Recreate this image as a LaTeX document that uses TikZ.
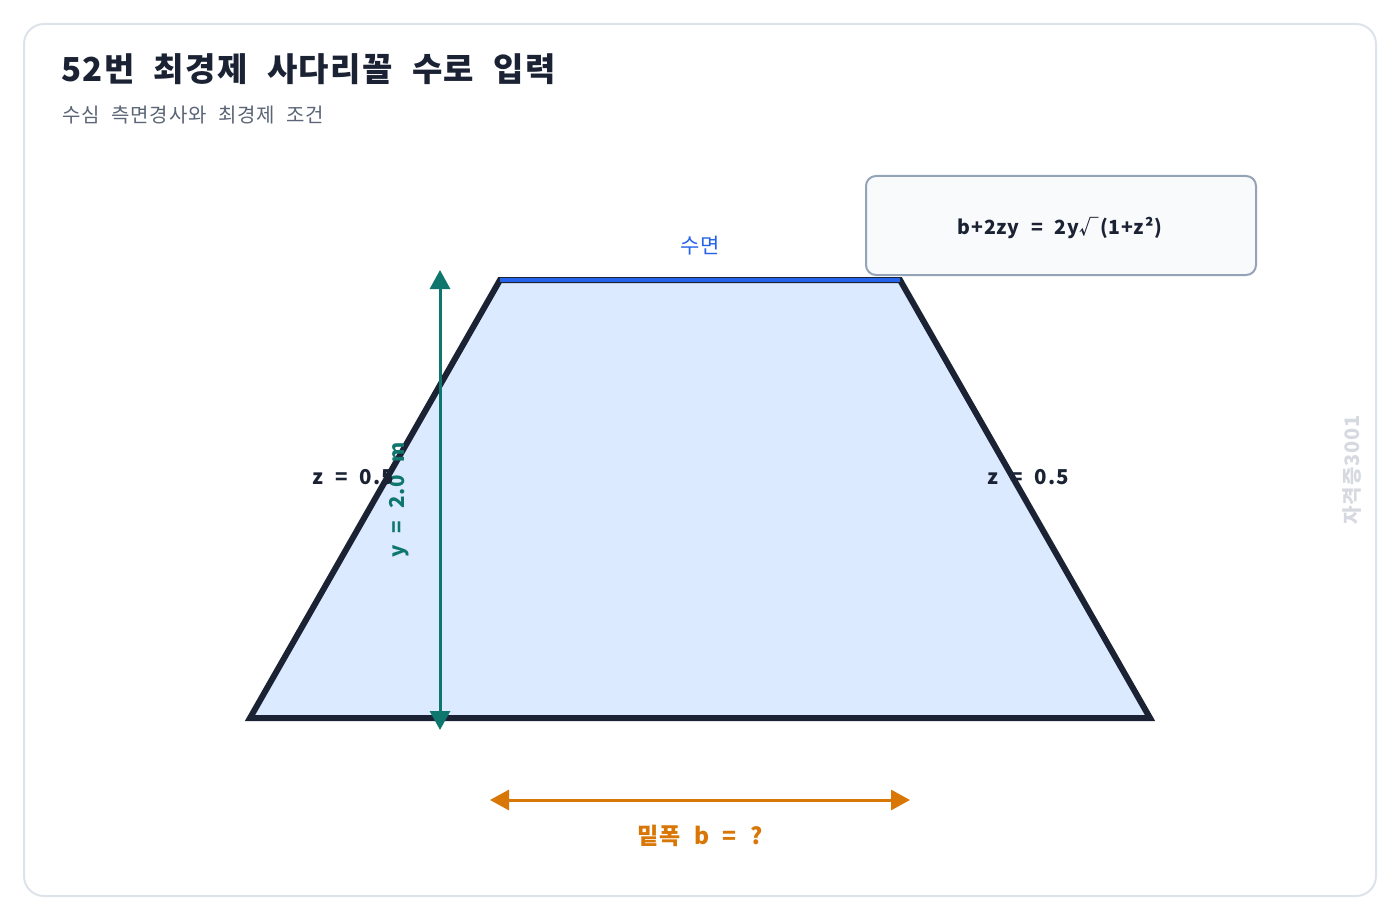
\documentclass[tikz,border=0pt]{standalone}
\usepackage{fontspec}
\setmainfont{Noto Sans CJK KR}[WordSpace=2.2, LetterSpace=4]
\usetikzlibrary{arrows.meta}

\definecolor{ink}{HTML}{1A2233}
\definecolor{subgray}{HTML}{5A6575}
\definecolor{cardline}{HTML}{DDE3EA}
\definecolor{waterfill}{HTML}{DBEAFE}
\definecolor{surfblue}{HTML}{2563EB}
\definecolor{boxfill}{HTML}{F8FAFC}
\definecolor{boxline}{HTML}{94A3B8}
\definecolor{depthteal}{HTML}{0F766E}
\definecolor{widthorange}{HTML}{D97706}
\definecolor{markgray}{HTML}{D6DAE0}

\tikzset{
  dimarrow/.style={line width=3pt, {Triangle[width=20pt,length=19pt]}-{Triangle[width=20pt,length=19pt]}},
  lbl/.style={inner sep=0pt, font=\fontsize{20.5}{24}\selectfont\bfseries},
}

\begin{document}
\begin{tikzpicture}[x=1pt,y=-1pt]

  \useasboundingbox (0,0) rectangle (1400,920); %% page
  \fill[white] (0,0) rectangle (1400,920);
  \draw[cardline, line width=2pt, fill=white, rounded corners=20pt]
  (24,24) rectangle (1376,896);

  \node[anchor=base west, inner sep=0pt, text=ink,
  font=\fontsize{33}{40}\selectfont\bfseries] (title) at (61,82)
  {52번 최경제 사다리꼴 수로 입력};
  \node[anchor=base west, inner sep=0pt, text=subgray,
  font=\fontsize{20}{24}\selectfont] (subtitle) at (62,123)
  {수심 측면경사와 최경제 조건};

  %% channel section
  \coordinate (tl) at (500,280);
  \coordinate (tr) at (900,280);
  \coordinate (br) at (1150,718);
  \coordinate (bl) at (250,718);
  \draw[ink, fill=waterfill, line width=6pt] (tl) -- (tr) -- (br) -- (bl) -- cycle;
  \draw[surfblue, line width=4pt] (tl) -- (tr);
  \node[lbl, font=\fontsize{21}{24}\selectfont, text=surfblue] (surface) at (700,246) {수면};

  %% formula box
  \node[draw=boxline, fill=boxfill, line width=2pt, rounded corners=10pt,
  minimum width=390pt, minimum height=99pt, anchor=north west] (formula) at (865,175) {};
  \node[lbl, font=\fontsize{19.5}{24}\selectfont\bfseries, text=ink] (formulatext) at (1060,228) {b+2zy = 2y√(1+z²)};

  %% depth y
  \coordinate (ytop) at (440,270);
  \coordinate (ybot) at (440,730);
  \draw[dimarrow, depthteal] (ybot) -- (ytop);
  \node[lbl, text=depthteal, rotate=90] (ylabel) at (399,500) {y = 2.0 m};

  %% side slopes
  \node[lbl, text=ink] (zleft) at (353,477) {z = 0.5};
  \node[lbl, text=ink] (zright) at (1028,477) {z = 0.5};

  %% bottom width b
  \coordinate (bleft) at (490,800);
  \coordinate (bright) at (910,800);
  \draw[dimarrow, widthorange] (bleft) -- (bright);
  \node[lbl, font=\fontsize{23}{26}\selectfont\bfseries, text=widthorange] (blabel) at (700,836) {밑폭 b = ?};

  \node[inner sep=0pt, rotate=90, text=markgray,
  font=\fontsize{20}{24}\selectfont\bfseries] (mark) at (1352,470) {자격증3001};

\end{tikzpicture}
\end{document}
